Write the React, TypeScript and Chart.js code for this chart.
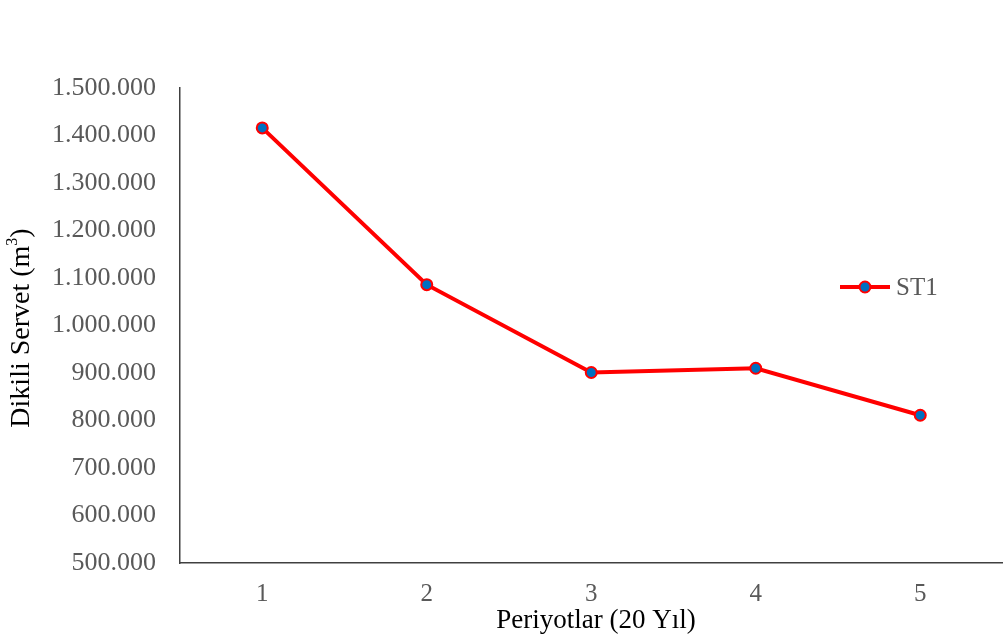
import React, { useEffect, useRef } from "react";
import { Chart, registerables } from "chart.js";

Chart.register(...registerables);

const categories = ["1", "2", "3", "4", "5"];
const st1Values = [1416000, 1086000, 901000, 910000, 811000];
const seriesName = "ST1";
const yMin = 500000;
const yMax = 1500000;
const yStep = 100000;
const xTitle = "Periyotlar (20 Yıl)";
const yTitleMain = "Dikili Servet (m";
const yTitleSup = "3";

const fmt = (v: number) => Math.round(v).toString().replace(/\B(?=(\d{3})+(?!\d))/g, ".");

const serif = "'Liberation Serif', 'Times New Roman', serif";

const legendPlugin = {
  id: "customLegend",
  afterDraw(chart: any) {
    const ctx = chart.ctx;
    const ds = chart.data.datasets[0];
    const y = 287;
    const x0 = 840;
    const x1 = 890;
    ctx.save();
    ctx.strokeStyle = ds.borderColor;
    ctx.lineWidth = ds.borderWidth;
    ctx.beginPath();
    ctx.moveTo(x0, y);
    ctx.lineTo(x1, y);
    ctx.stroke();
    ctx.beginPath();
    ctx.arc((x0 + x1) / 2, y, ds.pointRadius, 0, Math.PI * 2);
    ctx.fillStyle = ds.pointBackgroundColor;
    ctx.fill();
    ctx.lineWidth = ds.pointBorderWidth;
    ctx.strokeStyle = ds.pointBorderColor;
    ctx.stroke();
    ctx.fillStyle = "#595959";
    ctx.font = `25px ${serif}`;
    ctx.textBaseline = "middle";
    ctx.textAlign = "left";
    ctx.fillText(ds.label, 896, y + 1);
    ctx.restore();
  },
};

const yTitlePlugin = {
  id: "yTitle",
  afterDraw(chart: any) {
    const ctx = chart.ctx;
    ctx.save();
    ctx.translate(22, 328);
    ctx.rotate(-Math.PI / 2);
    ctx.fillStyle = "#000";
    ctx.textBaseline = "middle";
    ctx.textAlign = "left";
    ctx.font = `28px ${serif}`;
    const w1 = ctx.measureText(yTitleMain).width;
    ctx.font = `16px ${serif}`;
    const w2 = ctx.measureText(yTitleSup).width;
    ctx.font = `28px ${serif}`;
    const w3 = ctx.measureText(")").width;
    const total = w1 + w2 + w3;
    let x = -total / 2;
    ctx.fillText(yTitleMain, x, 0);
    x += w1;
    ctx.font = `16px ${serif}`;
    ctx.fillText(yTitleSup, x, -9);
    x += w2;
    ctx.font = `28px ${serif}`;
    ctx.fillText(")", x, 0);
    ctx.restore();
  },
};

const xTitlePlugin = {
  id: "xTitle",
  afterDraw(chart: any) {
    const ctx = chart.ctx;
    ctx.save();
    ctx.fillStyle = "#000";
    ctx.font = `27px ${serif}`;
    ctx.textAlign = "center";
    ctx.textBaseline = "middle";
    ctx.fillText(xTitle, 596, 621);
    ctx.restore();
  },
};

export default function App() {
  const ref = useRef<HTMLCanvasElement | null>(null);
  useEffect(() => {
    if (!ref.current) return;
    const chart = new Chart(ref.current, {
      type: "line",
      data: {
        labels: categories,
        datasets: [
          {
            label: seriesName,
            data: st1Values,
            borderColor: "#FF0000",
            borderWidth: 4,
            pointRadius: 5.5,
            pointBackgroundColor: "#0070C0",
            pointBorderColor: "#FF0000",
            pointBorderWidth: 2,
            tension: 0,
          },
        ],
      },
      options: {
        animation: false,
        responsive: false,
        layout: { padding: { top: 88, right: 0, left: 0, bottom: 0 } },
        plugins: { legend: { display: false }, tooltip: { enabled: false } },
        scales: {
          x: {
            type: "category",
            offset: true,
            grid: { display: false, drawTicks: false },
            border: { display: true, color: "#404040", width: 1.5 },
            ticks: {
              color: "#595959",
              font: { family: serif, size: 25 },
              padding: 16,
            },
            title: { display: false },
            afterFit(scale: any) {
              scale.height = 75;
            },
          },
          y: {
            min: yMin,
            max: yMax,
            grid: { display: false, drawTicks: false },
            border: { display: true, color: "#404040", width: 1.5 },
            ticks: {
              stepSize: yStep,
              color: "#595959",
              font: { family: serif, size: 26 },
              padding: 24,
              callback: (v: any) => fmt(Number(v)),
            },
            afterFit(scale: any) {
              scale.width = 180;
            },
          },
        },
      },
      plugins: [legendPlugin, yTitlePlugin, xTitlePlugin],
    } as any);
    return () => chart.destroy();
  }, []);
  return (
    <div style={{ position: "fixed", left: 0, top: 0, width: 1006, height: 638, overflow: "hidden", background: "#fff" }}>
      <canvas ref={ref} width={1010} height={638} style={{ display: "block", width: 1010, height: 638 }} />
    </div>
  );
}
